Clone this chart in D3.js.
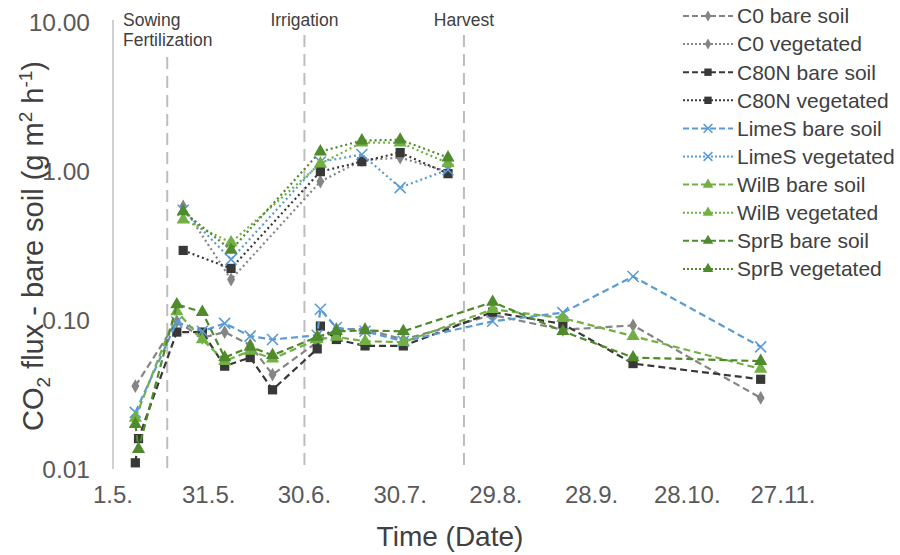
<!DOCTYPE html>
<html>
<head>
<meta charset="utf-8">
<script src="https://cdn.jsdelivr.net/npm/d3@7"></script>
<style>
  body { margin: 0; background: #fff; }
  svg { font-family: 'Liberation Sans', Arial, sans-serif; }
</style>
</head>
<body>
<svg id="chart" width="900" height="555"></svg>
<script>
// Measurement dates of the bare soil plots
const bareDates = ['2019-05-08', '2019-05-09', '2019-05-21', '2019-05-29', '2019-06-05', '2019-06-13',
  '2019-06-20', '2019-07-04', '2019-07-05', '2019-07-10', '2019-07-19', '2019-07-31',
  '2019-08-28', '2019-09-19', '2019-10-11', '2019-11-20']

// Measurement dates of the vegetated plots
const vegDates = ['2019-05-23', '2019-06-07', '2019-07-05', '2019-07-18', '2019-07-30', '2019-08-14']

// CO2 flux, bare soil (g m2 h-1)
const c0Bare = [0.036, null, 0.098, 0.076, 0.083, 0.068, 0.043, 0.071, null, 0.087, 0.087, 0.074, 0.108, 0.086, 0.092, 0.030]
const c80nBare = [0.011, 0.016, 0.083, 0.083, 0.049, 0.056, 0.034, 0.064, 0.091, 0.074, 0.067, 0.067, 0.113, 0.094, 0.051, 0.040]
const limesBare = [0.024, null, 0.097, 0.084, 0.095, 0.078, 0.074, 0.079, 0.118, 0.089, 0.084, 0.072, 0.098, 0.112, 0.196, 0.066]
const wilbBare = [0.022, null, 0.114, 0.074, 0.053, 0.062, 0.055, 0.074, null, 0.077, 0.072, 0.071, 0.118, 0.103, 0.078, 0.047]
const sprbBare = [0.020, 0.0136, 0.127, 0.113, 0.056, 0.066, 0.058, 0.077, null, 0.084, 0.085, 0.084, 0.132, 0.084, 0.056, 0.053]

// CO2 flux, vegetated plots
const c0Veg = [0.578, 0.187, 0.849, 1.18, 1.23, 0.99]
const c80nVeg = [0.293, 0.222, 0.99, 1.156, 1.33, 0.96]
const limesVeg = [0.545, 0.255, 1.15, 1.29, 0.774, 1.02]
const wilbVeg = [0.472, 0.331, 1.12, 1.55, 1.55, 1.13]
const sprbVeg = [0.535, 0.295, 1.349, 1.60, 1.62, 1.23]

// Field operations
const events = [
  { date: '2019-05-18', lines: ['Sowing', 'Fertilization'] },
  { date: '2019-06-30', lines: ['Irrigation'] },
  { date: '2019-08-19', lines: ['Harvest'] }
]

const xTicks = ['2019-05-01', '2019-05-31', '2019-06-30', '2019-07-30', '2019-08-29', '2019-09-28', '2019-10-28', '2019-11-27']
const yTicks = [0.01, 0.1, 1, 10]

const parse = d3.timeParse('%Y-%m-%d')

// Series in legend order
const series = [
  { name: 'C0 bare soil', dates: bareDates, values: c0Bare, color: '#858585', marker: 'diamond', dash: '7,4' },
  { name: 'C0 vegetated', dates: vegDates, values: c0Veg, color: '#858585', marker: 'diamond', dash: '2,3' },
  { name: 'C80N bare soil', dates: bareDates, values: c80nBare, color: '#383838', marker: 'square', dash: '7,4' },
  { name: 'C80N vegetated', dates: vegDates, values: c80nVeg, color: '#383838', marker: 'square', dash: '2,3' },
  { name: 'LimeS bare soil', dates: bareDates, values: limesBare, color: '#5b9bd5', marker: 'x', dash: '7,4' },
  { name: 'LimeS vegetated', dates: vegDates, values: limesVeg, color: '#5b9bd5', marker: 'x', dash: '2,3' },
  { name: 'WilB bare soil', dates: bareDates, values: wilbBare, color: '#72b043', marker: 'triangle', dash: '7,4' },
  { name: 'WilB vegetated', dates: vegDates, values: wilbVeg, color: '#72b043', marker: 'triangle', dash: '2,3' },
  { name: 'SprB bare soil', dates: bareDates, values: sprbBare, color: '#4f8a2c', marker: 'triangle', dash: '7,4' },
  { name: 'SprB vegetated', dates: vegDates, values: sprbVeg, color: '#4f8a2c', marker: 'triangle', dash: '2,3' }
]

const svg = d3.select('#chart')

// Scales
const x = d3.scaleTime()
  .domain([parse('2019-05-01'), parse('2019-11-27')])
  .range([113, 783])

const y = d3.scaleLog()
  .domain([0.01, 10])
  .range([469, 22])

/**
 * Draws a marker of the given kind centred on (0, 0).
 */
function drawMarker (g, kind, color, scale) {
  if (kind === 'x') {
    const s = 5.5 * scale
    g.append('path')
      .attr('d', `M${-s},${-s}L${s},${s}M${-s},${s}L${s},${-s}`)
      .attr('stroke', color)
      .attr('stroke-width', 1.6)
      .attr('fill', 'none')
    return
  }
  const types = { diamond: d3.symbolDiamond, square: d3.symbolSquare, triangle: d3.symbolTriangle }
  const sizes = { diamond: 55, square: 85, triangle: 75 }
  g.append('path')
    .attr('d', d3.symbol(types[kind], sizes[kind] * scale * scale)())
    .attr('fill', color)
}

// Y axis line
svg.append('line')
  .attr('x1', 113).attr('x2', 113)
  .attr('y1', 20).attr('y2', y(0.01))
  .attr('stroke', '#d0d0d0')
  .attr('stroke-width', 2)

// Y tick labels
svg.append('g')
  .selectAll('text')
  .data(yTicks)
  .join('text')
  .attr('x', 90)
  .attr('y', d => y(d))
  .attr('dy', '0.35em')
  .attr('text-anchor', 'end')
  .attr('font-size', 24.5)
  .attr('fill', '#595959')
  .text(d => d3.format('.2f')(d))

// X tick labels
const fmt = d3.timeFormat('%-d.%-m.')
svg.append('g')
  .selectAll('text')
  .data(xTicks.map(parse))
  .join('text')
  .attr('x', d => x(d))
  .attr('y', 503)
  .attr('text-anchor', 'middle')
  .attr('font-size', 24)
  .attr('fill', '#595959')
  .text(d => fmt(d))

// Axis titles
svg.append('text')
  .attr('x', 450)
  .attr('y', 546)
  .attr('text-anchor', 'middle')
  .attr('font-size', 28)
  .attr('fill', '#404040')
  .text('Time (Date)')

const yTitle = svg.append('text')
  .attr('transform', 'translate(43,246) rotate(-90)')
  .attr('text-anchor', 'middle')
  .attr('font-size', 29)
  .attr('fill', '#404040')
yTitle.append('tspan').text('CO')
yTitle.append('tspan').attr('font-size', 19).attr('dy', 7).text('2')
yTitle.append('tspan').attr('dy', -7).text(' flux - bare soil (g m')
yTitle.append('tspan').attr('font-size', 19).attr('dy', -11).text('2')
yTitle.append('tspan').attr('dy', 11).text(' h')
yTitle.append('tspan').attr('font-size', 19).attr('dy', -11).text('-1')
yTitle.append('tspan').attr('dy', 11).text(')')

// Field operation lines and labels
events.forEach(e => {
  const ex = x(parse(e.date))
  svg.append('line')
    .attr('x1', ex).attr('x2', ex)
    .attr('y1', e.lines.length > 1 ? 57 : 35)
    .attr('y2', y(0.01))
    .attr('stroke', '#bdbdbd')
    .attr('stroke-width', 2)
    .attr('stroke-dasharray', '12,7')
  const label = svg.append('text')
    .attr('font-size', 17.5)
    .attr('fill', '#404040')
    .attr('text-anchor', e.lines.length > 1 ? 'start' : 'middle')
    .attr('x', e.lines.length > 1 ? 123 : ex)
    .attr('y', 26)
  e.lines.forEach((t, i) => {
    label.append('tspan')
      .attr('x', e.lines.length > 1 ? 123 : ex)
      .attr('dy', i === 0 ? 0 : 20)
      .text(t)
  })
})

// Lines and markers
const line = d3.line()
  .x(d => x(d.date))
  .y(d => y(d.value))

series.forEach(s => {
  const pts = s.dates
    .map((d, i) => ({ date: parse(d), value: s.values[i] }))
    .filter(d => d.value != null)

  svg.append('path')
    .datum(pts)
    .attr('d', line)
    .attr('fill', 'none')
    .attr('stroke', s.color)
    .attr('stroke-width', 2.2)
    .attr('stroke-dasharray', s.dash)

  pts.forEach(p => {
    const g = svg.append('g')
      .attr('transform', `translate(${x(p.date)},${y(p.value)})`)
    drawMarker(g, s.marker, s.color, 1)
  })
})

// Legend
const legend = svg.append('g')
series.forEach((s, i) => {
  const ly = 16 + i * 28.1
  legend.append('line')
    .attr('x1', 683).attr('x2', 733)
    .attr('y1', ly).attr('y2', ly)
    .attr('stroke', s.color)
    .attr('stroke-width', 2)
    .attr('stroke-dasharray', s.dash === '7,4' ? '6,3' : '2,2')
  const g = legend.append('g').attr('transform', `translate(708,${ly})`)
  drawMarker(g, s.marker, s.color, 0.8)
  legend.append('text')
    .attr('x', 737)
    .attr('y', ly)
    .attr('dy', '0.35em')
    .attr('font-size', 21)
    .attr('fill', '#404040')
    .text(s.name)
})
</script>
</body>
</html>
